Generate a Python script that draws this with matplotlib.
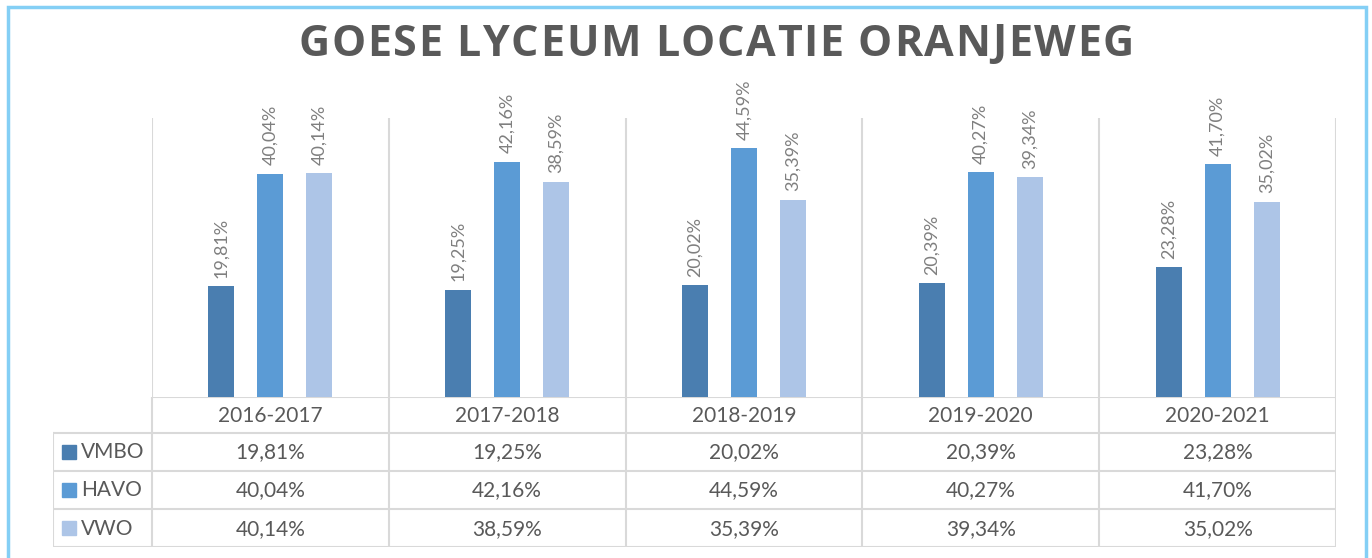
import matplotlib.pyplot as plt
import numpy as np
from matplotlib.patches import Rectangle

years = ["2016-2017", "2017-2018", "2018-2019", "2019-2020", "2020-2021"]
series = ["VMBO", "HAVO", "VWO"]
vmbo = [19.81, 19.25, 20.02, 20.39, 23.28]
havo = [40.04, 42.16, 44.59, 40.27, 41.70]
vwo = [40.14, 38.59, 35.39, 39.34, 35.02]
colors = ["#4a7eb0", "#5b9bd5", "#adc5e7"]

W, H = 1372, 558
GRID = "#d9d9d9"
TXT = "#595959"
FONT = "Lato"

def pct(v):
    return f"{v:.2f}%".replace(".", ",")

fig = plt.figure(figsize=(W / 100, H / 100), dpi=100)

# light blue frame
fig.patches.append(Rectangle((8 / W, -0.05), (1358) / W, 1.05 - 7 / H,
                             transform=fig.transFigure, fill=False,
                             edgecolor="#84cff5", linewidth=2.5))

# bar area
x0, x1, ytop, ybase = 152, 1336, 118, 397
ax = fig.add_axes([x0 / W, 1 - ybase / H, (x1 - x0) / W, (ybase - ytop) / H])
ax.set_xlim(0, len(years))
ax.set_ylim(0, 50)
ax.axis("off")

x = np.arange(len(years)) + 0.5
bw = 0.11
offs = 0.207
for i, (vals, c) in enumerate(zip([vmbo, havo, vwo], colors)):
    xs = x + (i - 1) * offs
    ax.bar(xs, vals, width=bw, color=c, zorder=2)
    for xi, v in zip(xs, vals):
        ax.annotate(pct(v), (xi, v), xytext=(0, 6), textcoords="offset points",
                    rotation=90, ha="center", va="bottom", fontsize=13,
                    color="#7f7f7f", family=FONT)

for k in range(len(years) + 1):
    ax.axvline(k, color=GRID, lw=1.5, zorder=1)

# data table
tx0, ty1 = 53, 547
tab = fig.add_axes([tx0 / W, 1 - ty1 / H, (x1 - tx0) / W, (ty1 - ybase) / H])
tab.set_xlim(tx0, x1)
tab.set_ylim(ty1, ybase)
tab.axis("off")
rows = [ybase, 432.5, 470.5, 508.5, ty1]
cols = [x0 + k * (x1 - x0) / len(years) for k in range(len(years) + 1)]

tab.plot([x0, x1], [ybase, ybase], color=GRID, lw=1.5)
for r in rows[1:]:
    tab.plot([tx0, x1], [r, r], color=GRID, lw=1.5)
tab.plot([tx0, tx0], [rows[1], ty1], color=GRID, lw=1.5)
for c in cols:
    tab.plot([c, c], [ybase, ty1], color=GRID, lw=1.5)

for j, yr in enumerate(years):
    tab.text((cols[j] + cols[j + 1]) / 2, (rows[0] + rows[1]) / 2 + 1, yr,
             ha="center", va="center", fontsize=15, color=TXT, family=FONT)

for i, (name, vals, c) in enumerate(zip(series, [vmbo, havo, vwo], colors)):
    yc = (rows[i + 1] + rows[i + 2]) / 2
    tab.add_patch(Rectangle((62, yc - 7), 14, 14, color=c))
    tab.text(81, yc + 1, name, ha="left", va="center", fontsize=15,
             color=TXT, family=FONT)
    for j, v in enumerate(vals):
        tab.text((cols[j] + cols[j + 1]) / 2, yc + 1, pct(v), ha="center",
                 va="center", fontsize=15, color=TXT, family=FONT)

# title with letter spacing
title = "GOESE LYCEUM LOCATIE ORANJEWEG"
r = fig.canvas.get_renderer()
tsize, spacing = 31, 1.7
widths = []
for ch in title:
    t = fig.text(0, 0, ch if ch != " " else "I", fontsize=tsize,
                 fontweight="bold", family="Open Sans")
    widths.append(t.get_window_extent(r).width * (0.75 if ch == " " else 1))
    t.remove()
total = sum(widths) + spacing * (len(title) - 1)
cx = 716
pos = cx - total / 2
for ch, w in zip(title, widths):
    if ch != " ":
        fig.text(pos / W, 1 - 44 / H, ch, fontsize=tsize, fontweight="bold",
                 family="Open Sans", color=TXT, va="center", ha="left")
    pos += w + spacing

fig.savefig("out.png", dpi=100)
